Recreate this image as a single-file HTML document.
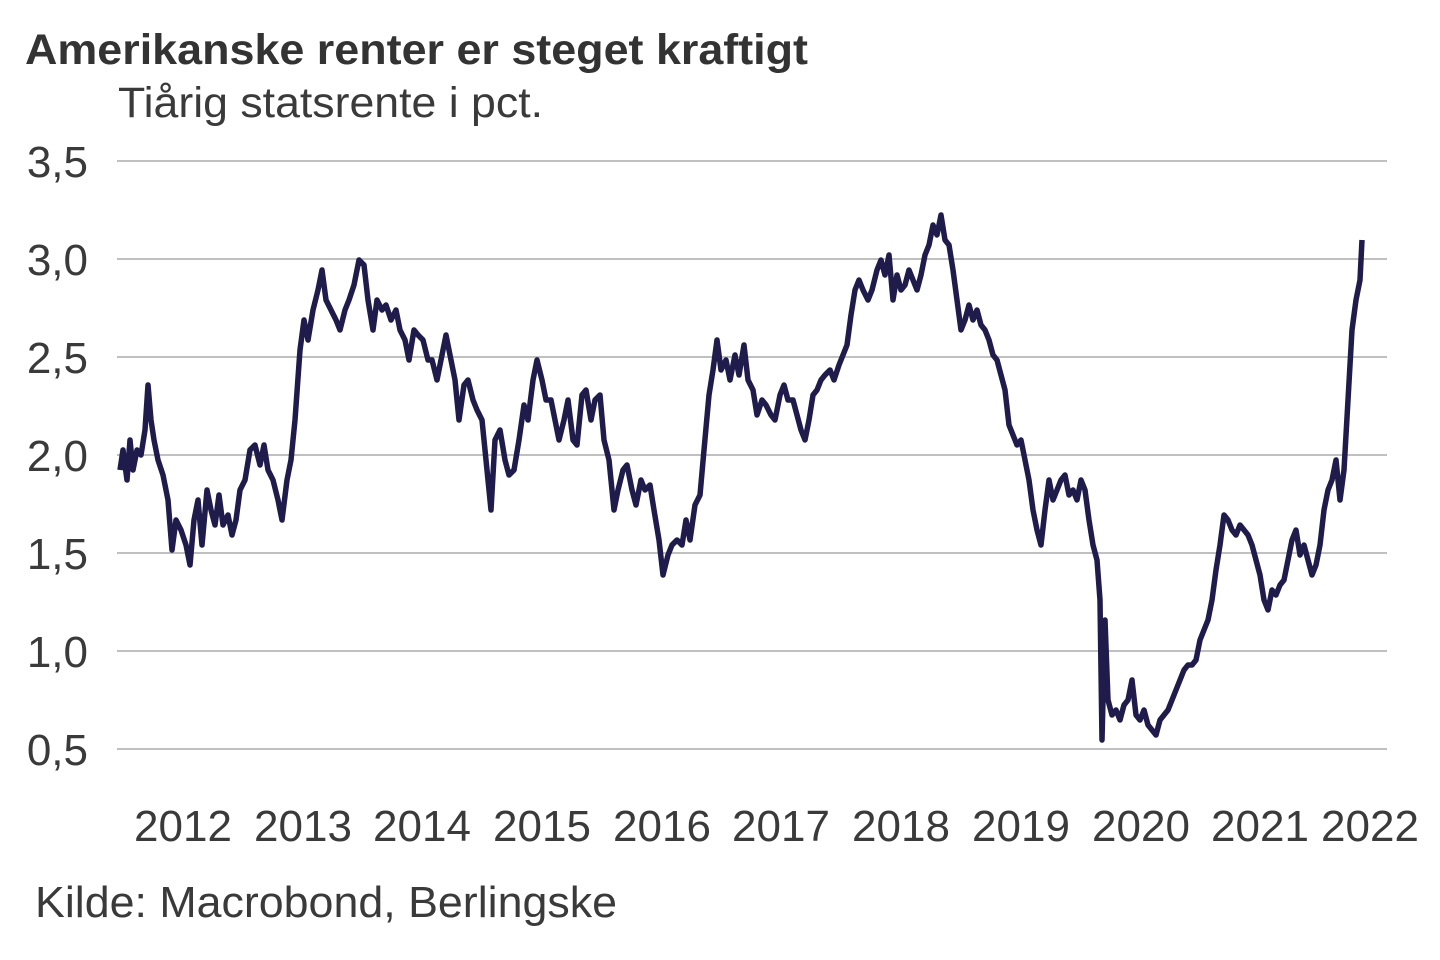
<!DOCTYPE html>
<html><head><meta charset="utf-8"><style>
body{margin:0;background:#fff;}
svg{display:block;font-family:"Liberation Sans",Arial,sans-serif;}
</style></head><body>
<svg width="1440" height="960" viewBox="0 0 1440 960">
<text x="25" y="64" font-size="43" font-weight="bold" fill="#333" textLength="783" lengthAdjust="spacingAndGlyphs">Amerikanske renter er steget kraftigt</text>
<text x="118" y="117" font-size="43" fill="#3a3a3a" textLength="425" lengthAdjust="spacingAndGlyphs">Tiårig statsrente i pct.</text>
<g stroke="#9a9a9a" stroke-width="1.3">
<line x1="117" x2="1387" y1="161" y2="161"/><line x1="117" x2="1387" y1="259" y2="259"/>
<line x1="117" x2="1387" y1="357" y2="357"/><line x1="117" x2="1387" y1="455" y2="455"/>
<line x1="117" x2="1387" y1="553" y2="553"/><line x1="117" x2="1387" y1="651" y2="651"/>
<line x1="117" x2="1387" y1="749" y2="749"/>
</g>
<g font-size="44" fill="#3a3a3a" text-anchor="end">
<text x="88" y="177">3,5</text><text x="88" y="275">3,0</text><text x="88" y="373">2,5</text>
<text x="88" y="471">2,0</text><text x="88" y="569">1,5</text><text x="88" y="667">1,0</text>
<text x="88" y="765">0,5</text>
</g>
<g font-size="44" fill="#3a3a3a" text-anchor="middle">
<text x="183" y="841">2012</text><text x="303" y="841">2013</text><text x="422" y="841">2014</text>
<text x="542" y="841">2015</text><text x="662" y="841">2016</text><text x="781" y="841">2017</text>
<text x="901" y="841">2018</text><text x="1021" y="841">2019</text><text x="1141" y="841">2020</text>
<text x="1260" y="841">2021</text><text x="1370" y="841">2022</text>
</g>
<polyline fill="none" stroke="#1f1c4c" stroke-width="5.5" stroke-linejoin="round" points="120,470 123,450 127,480 130,440 133,470 137,450 141,455 145,430 148,385 151,420 154,440 158,460 163,475 168,500 172,550 176,520 181,530 186,545 190,565 194,520 198,500 202,545 207,490 211,510 215,525 219,495 223,525 228,515 232,535 236,520 240,490 245,480 250,450 255,445 260,465 264,445 268,470 273,480 278,500 282,520 287,480 291,460 295,420 300,350 304,320 308,340 313,310 318,290 322,270 326,300 331,310 336,320 340,330 345,310 349,300 354,285 359,260 364,265 368,300 373,330 377,300 382,310 386,305 391,320 396,310 400,330 405,340 409,360 414,330 418,335 423,340 428,360 432,360 437,380 441,360 446,335 450,355 455,380 459,420 464,385 468,380 473,400 477,410 482,420 486,460 491,510 495,440 500,430 505,460 509,475 514,470 519,440 524,405 528,420 533,380 537,360 542,380 546,400 551,400 555,420 559,440 564,420 568,400 573,440 577,445 582,395 586,390 591,420 595,400 600,395 604,440 609,460 614,510 618,490 623,470 627,465 632,490 636,505 641,480 645,490 650,485 654,510 659,540 663,575 668,555 672,545 677,540 682,545 686,520 690,540 695,505 700,495 704,450 709,395 713,370 717,340 721,370 726,360 730,380 735,355 739,375 744,345 748,380 753,390 757,415 762,400 766,405 771,415 775,420 780,395 784,385 788,400 793,400 797,415 801,430 805,440 809,420 813,395 817,390 821,380 825,375 830,370 834,380 839,365 843,355 847,345 851,315 855,290 859,280 863,290 868,300 872,290 877,270 881,260 885,275 889,255 893,300 897,275 901,290 905,285 909,270 913,280 917,290 921,275 925,255 929,245 933,225 937,235 941,215 945,240 949,245 953,270 957,300 961,330 965,320 969,305 973,320 977,310 981,325 985,330 989,340 993,355 997,360 1001,375 1005,390 1009,425 1013,435 1017,445 1021,440 1025,460 1029,480 1033,510 1037,530 1041,545 1045,510 1049,480 1053,500 1057,490 1061,480 1065,475 1069,495 1073,490 1077,500 1081,480 1085,490 1089,520 1093,545 1097,560 1100,600 1102,740 1105,620 1108,700 1112,715 1116,710 1120,720 1124,705 1128,700 1132,680 1136,715 1140,720 1144,710 1148,725 1152,730 1156,735 1160,720 1164,715 1168,710 1172,700 1176,690 1180,680 1184,670 1188,665 1192,665 1196,660 1200,640 1204,630 1208,620 1212,600 1216,570 1220,545 1224,515 1228,520 1232,530 1236,535 1240,525 1244,530 1248,535 1252,545 1256,560 1260,575 1264,600 1268,610 1272,590 1276,595 1280,585 1284,580 1288,560 1292,540 1296,530 1300,555 1304,545 1308,560 1312,575 1316,565 1320,545 1324,510 1328,490 1332,480 1336,460 1340,500 1344,470 1348,400 1352,330 1356,300 1360,280 1362,240"/>
<text x="35" y="917" font-size="44" fill="#3a3a3a" textLength="582" lengthAdjust="spacingAndGlyphs">Kilde: Macrobond, Berlingske</text>
</svg>
</body></html>
